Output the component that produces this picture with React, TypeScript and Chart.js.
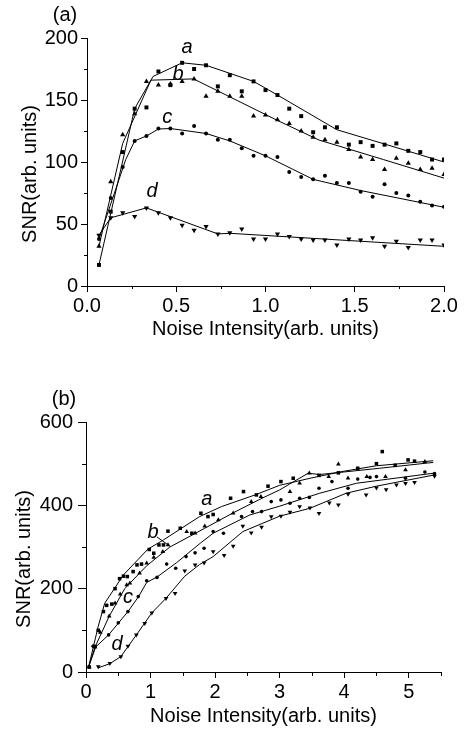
import React, { useEffect, useRef } from "react";
import { Chart, registerables } from "chart.js";
Chart.register(...registerables);

const FONT_FAMILY = '"Liberation Sans", Arial, Helvetica, sans-serif';

// ---------- Panel (a) data ----------
const aXTicks = [0, 0.5, 1.0, 1.5, 2.0];
const aYTicks = [0, 50, 100, 150, 200];
const aXMinor = [0.25, 0.75, 1.25, 1.75];
const aYMinor = [25, 75, 125, 175];

const aNoise = [0.067, 0.133, 0.2, 0.267, 0.333, 0.4, 0.467, 0.533, 0.6, 0.667, 0.733, 0.8, 0.867, 0.933, 1.0,
  1.067, 1.133, 1.2, 1.267, 1.333, 1.4, 1.467, 1.533, 1.6, 1.667, 1.733, 1.8, 1.867, 1.933, 2.0];
const aSeriesA = [17, 60, 108, 143, 144, 173, 162, 180, 175, 178, 161, 170, 157, 165, 158,
  154, 143, 137, 124, 128, 128, 114, 116, 113, 114, 115, 109, 108, 102, 102];
const aSeriesB = [32, 84, 122, 139, 165, 162, 163, 165, 167, 153, 157, 153, 153, 137, 138,
  134, 131, 125, 120, 118, 116, 110, 104, 102, 94, 103, 99, 94, 95, 90];
const aSeriesC = [38, 71, 96, 117, 121, 127, 127, 123, 129, 123, 118, 118, 111, 105, 105,
  104, 92, 88, 86, 89, 83, 83, 76, 72, 82, 75, 73, 68, 65, 64];
const aSeriesD = [41, 55, 59, 56, 63, 59, 55, 49, 45, 48, 42, 43, 46, 38, 38,
  42, 40, 38, 37, 37, 33, 38, 37, 39, 32, 36, 31, 37, 37, 33];

const aFitAX = [0.067, 0.267, 0.37, 0.533, 0.667, 0.933, 1.067, 1.4, 1.667, 2.0];
const aFitAY = [17, 143, 169, 180, 178, 165, 154, 126, 114.5, 100];
const aFitBX = [0.067, 0.2, 0.358, 0.597, 1.06, 1.266, 1.3, 1.66, 2.0];
const aFitBY = [32, 115, 166, 167, 134, 120, 117.7, 102, 87];
const aFitCX = [0.067, 0.217, 0.267, 0.333, 0.4, 0.467, 0.667, 0.8, 1.0, 1.267, 1.533, 2.0];
const aFitCY = [38, 102, 117, 121, 126.6, 127, 123, 117, 105, 86, 77, 63.5];
const aFitDX = [0.067, 0.133, 0.333, 0.733, 0.8, 2.0];
const aFitDY = [41, 55, 63, 42, 42.5, 32];

// ---------- Panel (b) data ----------
const bXTicks = [0, 1, 2, 3, 4, 5];
const bYTicks = [0, 200, 400, 600];
const bXMinor = [0.5, 1.5, 2.5, 3.5, 4.5, 5.5];
const bYMinor = [100, 300, 500];

const bAX = [0.05, 0.14, 0.19, 0.27, 0.32, 0.40, 0.45, 0.52, 0.58, 0.64, 0.73, 0.79, 0.86, 0.98, 1.05, 1.13, 1.20, 1.27,
  1.46, 1.64, 1.78, 1.89, 1.97, 2.24, 2.44, 2.64, 2.82, 3.02, 3.21, 3.61, 3.91, 4.21, 4.50, 4.59, 4.79, 4.99, 5.09];
const bAY = [12, 61, 100, 145, 160, 163, 200, 224, 230, 229, 241, 257, 259, 294, 285, 305, 305, 338,
  345, 333, 381, 373, 378, 417, 433, 425, 446, 457, 465, 472, 478, 489, 500, 529, 496, 509, 506];
const bBX = [0.05, 0.14, 0.22, 0.36, 0.45, 0.53, 0.63, 0.68, 0.83, 0.94, 1.05, 1.19, 1.27, 1.56, 1.69, 1.84, 2.05, 2.28,
  2.56, 2.71, 3.16, 3.31, 3.46, 3.76, 3.91, 4.06, 4.35, 4.64, 4.95, 5.25];
const bBY = [12, 60, 95, 134, 165, 187, 209, 213, 237, 261, 275, 289, 305, 337, 333, 350, 365, 381,
  409, 421, 433, 453, 477, 469, 499, 465, 469, 469, 485, 505];
const bCX = [0.05, 0.11, 0.35, 0.50, 0.65, 0.81, 0.94, 1.10, 1.25, 1.39, 1.55, 1.69, 1.83, 1.97, 2.13, 2.41, 2.58, 2.72,
  2.87, 3.02, 3.16, 3.31, 3.46, 3.61, 3.81, 4.06, 4.21, 4.40, 4.50, 4.95, 5.25, 5.40];
const bCY = [12, 62, 89, 118, 145, 181, 219, 227, 259, 249, 277, 286, 297, 337, 333, 373, 385, 385,
  409, 413, 405, 417, 419, 441, 457, 441, 463, 467, 469, 465, 480, 476];
const bDX = [0.19, 0.37, 0.54, 0.65, 0.78, 0.91, 1.02, 1.24, 1.38, 1.53, 1.69, 1.83, 1.97, 2.14, 2.28, 2.43, 2.56, 2.72,
  2.87, 3.02, 3.16, 3.31, 3.47, 3.61, 3.77, 3.91, 4.06, 4.34, 4.50, 4.65, 4.81, 4.95, 5.09, 5.40];
const bDY = [13, 21, 37, 62, 89, 117, 142, 177, 189, 243, 257, 262, 289, 280, 302, 350, 334, 348,
  373, 374, 384, 397, 394, 381, 406, 401, 427, 425, 442, 438, 449, 453, 455, 470];

const bFitAX = [0.04, 0.19, 0.29, 0.58, 0.96, 1.2, 1.76, 2.1, 2.62, 3.0, 3.5, 4.0, 4.5, 5.38];
const bFitAY = [12, 110, 165, 233, 295, 317, 373, 397, 425, 448, 466, 482, 495, 507];
const bFitBX = [0.04, 0.14, 0.36, 0.6, 0.94, 1.3, 1.84, 2.28, 2.7, 3.0, 3.44, 3.62, 4.55, 5.38];
const bFitBY = [12, 60, 134, 200, 255, 300, 345, 382, 415, 437, 477, 474, 489, 503];
const bFitCX = [0.04, 0.15, 0.35, 0.65, 0.81, 0.94, 1.1, 1.4, 1.77, 1.97, 2.54, 3.0, 3.62, 4.19, 5.38];
const bFitCY = [12, 60, 89, 145, 180, 215, 228, 262, 309, 333, 377, 398, 429, 453, 477];
const bFitDX = [0.19, 0.37, 0.54, 0.78, 1.02, 1.24, 1.53, 1.76, 1.97, 2.43, 3.0, 3.47, 4.03, 4.5, 5.4];
const bFitDY = [10, 20, 37, 89, 142, 177, 230, 258, 277, 337, 374, 393, 429, 446, 473];

type Label = { text: string; x: number; y: number };
const aLabels: Label[] = [
  { text: "a", x: 0.56, y: 192 },
  { text: "b", x: 0.51, y: 171 },
  { text: "c", x: 0.45, y: 136 },
  { text: "d", x: 0.365, y: 76 },
];
const bLabels: Label[] = [
  { text: "a", x: 1.87, y: 413 },
  { text: "b", x: 1.04, y: 334 },
  { text: "c", x: 0.65, y: 178 },
  { text: "d", x: 0.48, y: 65 },
];
const bLeader = { x1: 1.1, y1: 324, x2: 1.3, y2: 302 };

const zip = (xs: number[], ys: number[]) => xs.map((x, i) => ({ x, y: ys[i] }));

function scatterSet(xs: number[], ys: number[], style: string, r: number, rot = 0) {
  return {
    data: zip(xs, ys),
    showLine: false,
    pointStyle: style,
    pointRadius: r,
    pointRotation: rot,
    pointBackgroundColor: "#000",
    pointBorderColor: "#000",
    pointBorderWidth: 0,
    borderColor: "#000",
    backgroundColor: "#000",
  };
}
function fitSet(xs: number[], ys: number[]) {
  return {
    data: zip(xs, ys),
    showLine: true,
    pointRadius: 0,
    borderColor: "#000",
    borderWidth: 1,
    tension: 0,
    fill: false,
  };
}

const decorPlugin = {
  id: "decor",
  afterDraw(chart: any, _args: any, opts: any) {
    const ctx = chart.ctx;
    const xs = chart.scales.x;
    const ys = chart.scales.y;
    const area = chart.chartArea;
    ctx.save();
    ctx.strokeStyle = "#000";
    ctx.lineWidth = 1;
    // minor ticks
    ctx.beginPath();
    (opts.xMinor || []).forEach((v: number) => {
      const px = Math.round(xs.getPixelForValue(v)) + 0.5;
      ctx.moveTo(px, area.bottom);
      ctx.lineTo(px, area.bottom + opts.minorLen);
    });
    (opts.yMinor || []).forEach((v: number) => {
      const py = Math.round(ys.getPixelForValue(v)) + 0.5;
      ctx.moveTo(area.left, py);
      ctx.lineTo(area.left - opts.minorLen, py);
    });
    ctx.stroke();
    // y title
    ctx.fillStyle = "#000";
    ctx.font = `20px ${FONT_FAMILY}`;
    ctx.textAlign = "center";
    ctx.textBaseline = "middle";
    ctx.save();
    ctx.translate(opts.yTitleX, (area.top + area.bottom) / 2 + opts.yTitleShift);
    ctx.rotate(-Math.PI / 2);
    ctx.fillText(opts.yTitle, 0, 0);
    ctx.restore();
    // panel label
    ctx.font = `20px ${FONT_FAMILY}`;
    ctx.fillText(opts.panel, area.left - 22, area.top - 23);
    // curve labels
    ctx.font = `italic 20px ${FONT_FAMILY}`;
    (opts.labels || []).forEach((l: Label) => {
      ctx.fillText(l.text, xs.getPixelForValue(l.x), ys.getPixelForValue(l.y));
    });
    if (opts.leader) {
      const L = opts.leader;
      ctx.beginPath();
      ctx.moveTo(xs.getPixelForValue(L.x1), ys.getPixelForValue(L.y1));
      ctx.lineTo(xs.getPixelForValue(L.x2), ys.getPixelForValue(L.y2));
      ctx.stroke();
    }
    ctx.restore();
  },
};

function axisCommon(tickLen: number) {
  return {
    grid: { drawOnChartArea: false, drawTicks: true, tickLength: tickLen, color: "#000", tickColor: "#000", tickWidth: 1 },
    border: { display: true, color: "#000", width: 1 },
  };
}

function makeA(canvas: HTMLCanvasElement) {
  return new Chart(canvas, {
    type: "scatter",
    data: {
      datasets: [
        fitSet(aFitAX, aFitAY),
        fitSet(aFitBX, aFitBY),
        fitSet(aFitCX, aFitCY),
        fitSet(aFitDX, aFitDY),
        scatterSet(aNoise, aSeriesA, "rect", 2.8),
        scatterSet(aNoise, aSeriesB, "triangle", 3),
        scatterSet(aNoise, aSeriesC, "circle", 2),
        scatterSet(aNoise, aSeriesD, "triangle", 3, 180),
      ] as any,
    },
    options: {
      responsive: false,
      animation: false,
      devicePixelRatio: 1,
      layout: { padding: { top: 38, right: 22, left: 0, bottom: 0 } },
      plugins: {
        legend: { display: false },
        tooltip: { enabled: false },
        decor: {
          xMinor: aXMinor, yMinor: aYMinor, minorLen: 3,
          yTitle: "SNR(arb. units)", yTitleX: 30, yTitleShift: 12,
          panel: "(a)", labels: aLabels,
        },
      } as any,
      scales: {
        x: {
          type: "linear", min: 0, max: 2,
          afterBuildTicks: (s: any) => { s.ticks = aXTicks.map((v) => ({ value: v })); },
          ticks: { font: { family: FONT_FAMILY, size: 20 }, color: "#000", padding: 2, maxRotation: 0, autoSkip: false,
            callback: (v: any) => Number(v).toFixed(1) },
          title: { display: true, text: "Noise Intensity(arb. units)", color: "#000",
            font: { family: FONT_FAMILY, size: 20 }, padding: { top: 0, bottom: 19 } },
          afterFit: (s: any) => { s.height = 74; },
          ...axisCommon(6),
        },
        y: {
          type: "linear", min: 0, max: 200,
          afterBuildTicks: (s: any) => { s.ticks = aYTicks.map((v) => ({ value: v })); },
          ticks: { font: { family: FONT_FAMILY, size: 20 }, color: "#000", padding: 3 },
          afterFit: (s: any) => { s.width = 87; },
          ...axisCommon(6),
        },
      } as any,
    },
    plugins: [decorPlugin],
  });
}

function makeB(canvas: HTMLCanvasElement) {
  return new Chart(canvas, {
    type: "scatter",
    data: {
      datasets: [
        fitSet(bFitAX, bFitAY),
        fitSet(bFitBX, bFitBY),
        fitSet(bFitCX, bFitCY),
        fitSet(bFitDX, bFitDY),
        scatterSet(bAX, bAY, "rect", 2.5),
        scatterSet(bBX, bBY, "triangle", 2.7),
        scatterSet(bCX, bCY, "circle", 1.8),
        scatterSet(bDX, bDY, "triangle", 2.7, 180),
      ] as any,
    },
    options: {
      responsive: false,
      animation: false,
      devicePixelRatio: 1,
      layout: { padding: { top: 62, right: 25, left: 0, bottom: 0 } },
      plugins: {
        legend: { display: false },
        tooltip: { enabled: false },
        decor: {
          xMinor: bXMinor, yMinor: bYMinor, minorLen: 4,
          yTitle: "SNR(arb. units)", yTitleX: 24, yTitleShift: 12,
          panel: "(b)", labels: bLabels, leader: bLeader,
        },
      } as any,
      scales: {
        x: {
          type: "linear", min: 0, max: 5.5,
          afterBuildTicks: (s: any) => { s.ticks = bXTicks.map((v) => ({ value: v })); },
          ticks: { font: { family: FONT_FAMILY, size: 20 }, color: "#000", padding: 2, maxRotation: 0, autoSkip: false,
            callback: (v: any) => String(v) },
          title: { display: true, text: "Noise Intensity(arb. units)", color: "#000",
            font: { family: FONT_FAMILY, size: 20 }, padding: { top: 0, bottom: 4 } },
          afterFit: (s: any) => { s.height = 60; },
          ...axisCommon(6),
        },
        y: {
          type: "linear", min: 0, max: 600,
          afterBuildTicks: (s: any) => { s.ticks = bYTicks.map((v) => ({ value: v })); },
          ticks: { font: { family: FONT_FAMILY, size: 20 }, color: "#000", padding: 5 },
          afterFit: (s: any) => { s.width = 86; },
          ...axisCommon(8),
        },
      } as any,
    },
    plugins: [decorPlugin],
  });
}

export default function App() {
  const refA = useRef<HTMLCanvasElement>(null);
  const refB = useRef<HTMLCanvasElement>(null);
  useEffect(() => {
    const ca = makeA(refA.current!);
    const cb = makeB(refB.current!);
    return () => { ca.destroy(); cb.destroy(); };
  }, []);
  return (
    <div style={{ position: "absolute", left: 0, top: 0, width: 466, height: 732, background: "#fff" }}>
      <canvas ref={refA} width={466} height={360}
        style={{ position: "absolute", left: 0, top: 0, width: 466, height: 360 }} />
      <canvas ref={refB} width={466} height={372}
        style={{ position: "absolute", left: 0, top: 360, width: 466, height: 372 }} />
    </div>
  );
}
